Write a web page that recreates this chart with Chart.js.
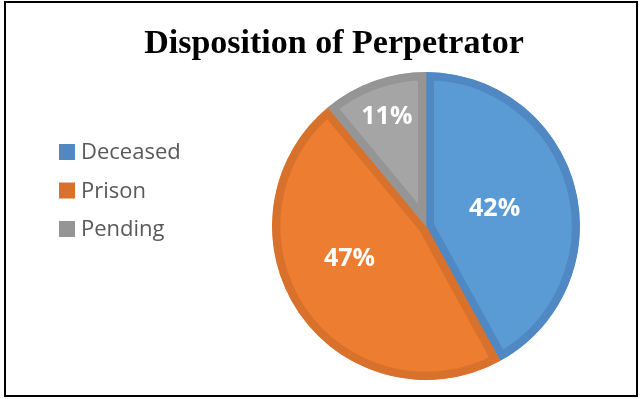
<!DOCTYPE html>
<html>
<head>
<meta charset="utf-8">
<title>Disposition of Perpetrator</title>
<script src="https://cdn.jsdelivr.net/npm/chart.js@4.4.1/dist/chart.umd.min.js"></script>
<style>
  html, body { margin: 0; padding: 0; background: #fff; }
  #wrap { width: 642px; height: 399px; position: relative; }
</style>
</head>
<body>
<div id="wrap"><canvas id="myChart"></canvas></div>
<script>
    'use strict';

    const chartTitle = 'Disposition of Perpetrator';
    const categories = ['Deceased', 'Prison', 'Pending'];
    const shares = [42, 47, 11];

    const fillColors = ['#5B9BD5', '#ED7D31', '#A5A5A5'];
    const edgeColors = ['#4F88C2', '#D8712C', '#959595'];

    // where each % label sits: fraction of the radius, and a small turn in degrees
    const labelSpots = [
        { r: 0.46, turn: 0 },
        { r: 0.54, turn: 11 },
        { r: 0.75, turn: 0 }
    ];

    // white page, frame and the heading
    const framePlugin = {
        id: 'frame',
        beforeDraw(chart) {
            const c = chart.ctx;
            c.save();
            c.fillStyle = '#fff';
            c.fillRect(0, 0, chart.width, chart.height);
            c.strokeStyle = '#000';
            c.lineWidth = 2;
            c.strokeRect(5, 2, 632, 394);
            c.fillStyle = '#000';
            c.font = 'bold 34px "Liberation Serif", "Times New Roman", serif';
            c.textAlign = 'center';
            c.textBaseline = 'alphabetic';
            c.fillText(chartTitle, 334, 53);
            c.restore();
        }
    };

    // legend column on the left
    const sideLegend = {
        id: 'sideLegend',
        afterDraw(chart) {
            const c = chart.ctx;
            const ds = chart.data.datasets[0];
            c.save();
            c.font = '22px "Open Sans", sans-serif';
            c.textBaseline = 'middle';
            c.textAlign = 'left';
            chart.data.labels.forEach((lab, i) => {
                const y = 152 + i * 38.5;
                c.fillStyle = ds.borderColor[i];
                c.fillRect(59, y - 8, 16, 16);
                c.fillStyle = '#595959';
                c.fillText(lab, 81, y + 1);
            });
            c.restore();
        }
    };

    // percentage labels inside the slices
    const sliceLabels = {
        id: 'sliceLabels',
        afterDatasetsDraw(chart) {
            const c = chart.ctx;
            const meta = chart.getDatasetMeta(0);
            const values = chart.data.datasets[0].data;
            const total = values.reduce((a, b) => a + b, 0);
            c.save();
            c.font = 'bold 25px "Open Sans", sans-serif';
            c.fillStyle = '#fff';
            c.textAlign = 'center';
            c.textBaseline = 'middle';
            meta.data.forEach((arc, i) => {
                const p = arc.getProps(['x', 'y', 'startAngle', 'endAngle', 'outerRadius'], true);
                const spot = labelSpots[i];
                const mid = (p.startAngle + p.endAngle) / 2 + spot.turn * Math.PI / 180;
                const rr = p.outerRadius * spot.r;
                const pct = Math.round(values[i] / total * 100) + '%';
                c.fillText(pct, p.x + Math.cos(mid) * rr, p.y + Math.sin(mid) * rr);
            });
            c.restore();
        }
    };

    let ctx = document.getElementById('myChart');

    var myPie = new Chart(ctx, {
        type: 'pie',
        data: {
            labels: categories,
            datasets: [{
                data: shares,
                backgroundColor: fillColors,
                borderColor: edgeColors,
                borderWidth: 8,
                borderAlign: 'inner'
            }]
        },
        options: {
            responsive: true,
            maintainAspectRatio: false,
            animation: false,
            events: [],
            layout: {
                padding: { top: 72, bottom: 19, left: 272, right: 62 }
            },
            plugins: {
                legend: { display: false },
                title: { display: false },
                tooltip: { enabled: false }
            }
        },
        plugins: [framePlugin, sideLegend, sliceLabels]
    });
</script>
</body>
</html>
